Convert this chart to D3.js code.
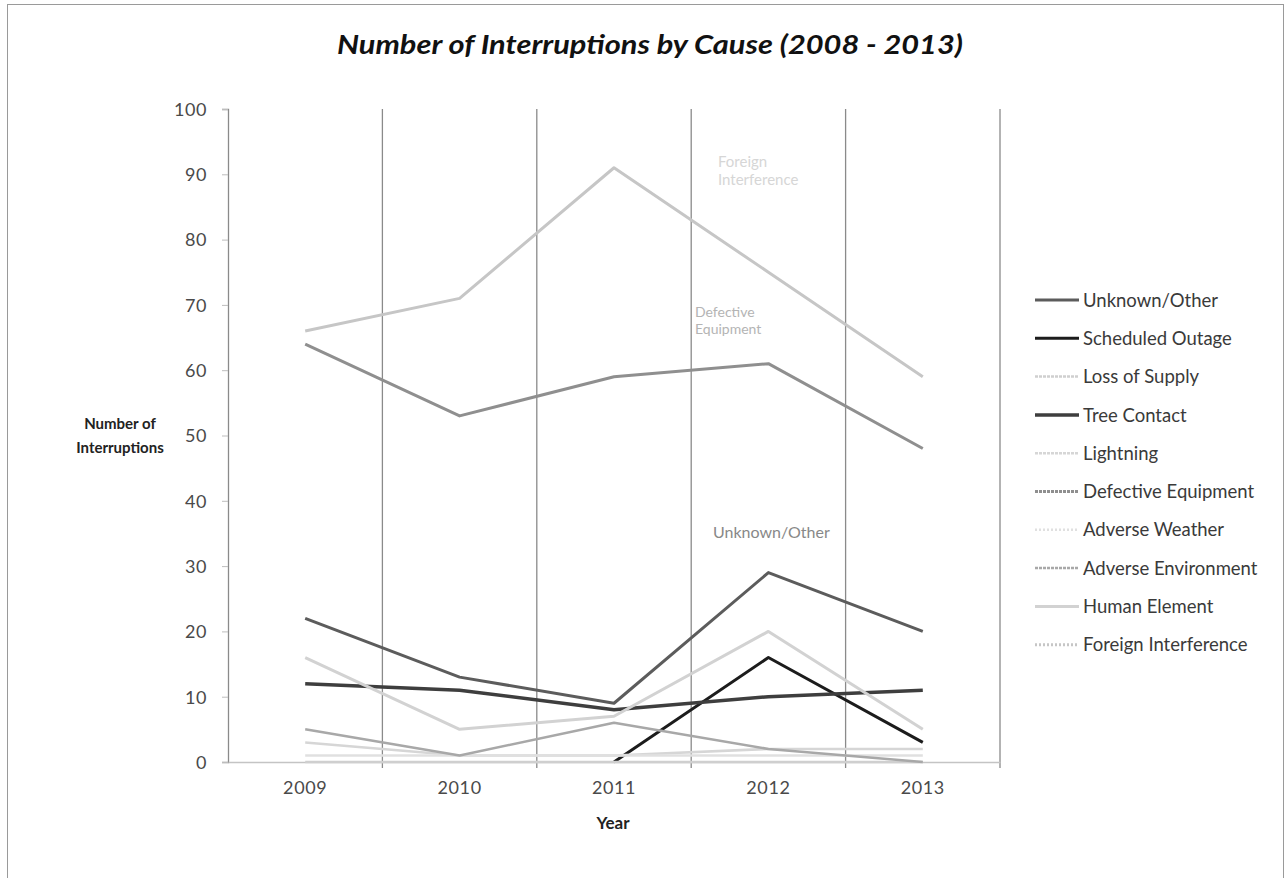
<!DOCTYPE html>
<html>
<head>
<meta charset="utf-8">
<script src="https://cdn.jsdelivr.net/npm/d3@7"></script>
<style>
  html, body { margin: 0; padding: 0; background: #fff; }
  svg { display: block; }
  text { font-family: Lato, "Open Sans", sans-serif; }
</style>
</head>
<body>
<div id="chart"></div>
<script>
// Interruption counts per cause, 2009–2013
const years = ["2009", "2010", "2011", "2012", "2013"];
const yTicks = [0, 10, 20, 30, 40, 50, 60, 70, 80, 90, 100];

const unknownOther        = [22, 13, 9, 29, 20];
const scheduledOutage     = [null, null, 0, 16, 3];
const lossOfSupply        = [0, 0, 0, 0, 0];
const treeContact         = [12, 11, 8, 10, 11];
const lightning           = [3, 1, 1, 2, 2];
const defectiveEquipment  = [64, 53, 59, 61, 48];
const adverseWeather      = [1, 1, 1, 1, 1];
const adverseEnvironment  = [5, 1, 6, 2, 0];
const humanElement        = [16, 5, 7, 20, 5];
const foreignInterference = [66, 71, 91, 75, 59];

const series = [
  { name: "Unknown/Other",        values: unknownOther,        color: "#5c5c5c", width: 3,   key: null },
  { name: "Scheduled Outage",     values: scheduledOutage,     color: "#1c1c1c", width: 3,   key: null },
  { name: "Loss of Supply",       values: lossOfSupply,        color: "#cfcfcf", width: 2.5, key: "3,1" },
  { name: "Tree Contact",         values: treeContact,         color: "#3e3e3e", width: 3.5, key: null },
  { name: "Lightning",            values: lightning,           color: "#d6d6d6", width: 2.5, key: "3,1" },
  { name: "Defective Equipment",  values: defectiveEquipment,  color: "#8f8f8f", width: 3,   key: "3,1" },
  { name: "Adverse Weather",      values: adverseWeather,      color: "#e0e0e0", width: 2.5, key: "2,2" },
  { name: "Adverse Environment",  values: adverseEnvironment,  color: "#a8a8a8", width: 2.5, key: "3,1" },
  { name: "Human Element",        values: humanElement,        color: "#d2d2d2", width: 3,   key: null },
  { name: "Foreign Interference", values: foreignInterference, color: "#c6c6c6", width: 3,   key: "2,2" }
];

// In-plot callouts
const callouts = [
  { lines: ["Foreign", "Interference"], x: 718, y: 167, color: "#d6d6d6", size: 15 },
  { lines: ["Defective", "Equipment"],  x: 695, y: 317, color: "#b4b4b4", size: 14 },
  { lines: ["Unknown/Other"],           x: 713, y: 538, color: "#888888", size: 16 }
];

const W = 1286, H = 878;
const svg = d3.select("#chart").append("svg").attr("width", W).attr("height", H);

// chart frame
svg.append("rect").attr("x", 7.5).attr("y", 4.5).attr("width", 1276).attr("height", 880)
  .attr("fill", "none").attr("stroke", "#9a9a9a").attr("stroke-width", 1);

const x = d3.scaleBand().domain(years).range([228, 1000]).padding(0);
const y = d3.scaleLinear().domain([0, 100]).range([762, 109]);
const cx = d => x(d) + x.bandwidth() / 2;

// title
svg.append("text").attr("x", 650).attr("y", 54).attr("text-anchor", "middle")
  .attr("font-size", 26).attr("font-weight", "bold").attr("font-style", "italic")
  .attr("fill", "#111")
  .attr("textLength", 626).attr("lengthAdjust", "spacingAndGlyphs")
  .text("Number of Interruptions by Cause (2008 - 2013)");

// vertical gridlines at category boundaries
const g = svg.append("g");
g.selectAll("line.grid").data(years).enter().append("line")
  .attr("class", "grid")
  .attr("x1", d => x(d) + x.bandwidth()).attr("x2", d => x(d) + x.bandwidth())
  .attr("y1", y(100)).attr("y2", y(0) + 6)
  .attr("stroke", "#8a8a8a").attr("stroke-width", 1.3);

// y axis
const yAxis = d3.axisLeft(y).tickValues(yTicks).tickSize(6).tickPadding(15);
const ya = svg.append("g").attr("transform", "translate(228,0)").call(yAxis);
ya.select(".domain").attr("stroke", "#8a8a8a").attr("stroke-width", 1.3);
ya.selectAll(".tick line").attr("stroke", "#bdbdbd");
ya.selectAll(".tick text").attr("font-size", 18).attr("fill", "#4a4a4a")
  .attr("letter-spacing", 0.6)
  .attr("font-family", "Lato, 'Open Sans', sans-serif").attr("dy", "0.35em");

// x axis
const xAxis = d3.axisBottom(x).tickSize(0).tickPadding(19);
const xa = svg.append("g").attr("transform", `translate(0,${y(0)})`).call(xAxis);
xa.select(".domain").attr("stroke", "#c4c4c4").attr("stroke-width", 1.5);
xa.selectAll(".tick text").attr("font-size", 18).attr("fill", "#4a4a4a")
  .attr("letter-spacing", 0.6)
  .attr("font-family", "Lato, 'Open Sans', sans-serif");

// axis titles
svg.append("text").attr("x", 613).attr("y", 829).attr("text-anchor", "middle")
  .attr("font-size", 17).attr("font-weight", "bold").attr("fill", "#222").text("Year");
const yt = svg.append("text").attr("text-anchor", "middle").attr("font-size", 15)
  .attr("font-weight", "bold").attr("fill", "#222");
yt.append("tspan").attr("x", 120).attr("y", 429).text("Number of");
yt.append("tspan").attr("x", 120).attr("y", 453).text("Interruptions");

// series lines
const line = d3.line()
  .defined(d => d.v != null)
  .x(d => cx(d.year))
  .y(d => y(d.v));

svg.append("g").selectAll("path").data(series).enter().append("path")
  .attr("d", s => line(s.values.map((v, i) => ({ year: years[i], v }))))
  .attr("fill", "none")
  .attr("stroke", s => s.color)
  .attr("stroke-width", s => s.width)
  .attr("stroke-linejoin", "round");

// callouts
callouts.forEach(c => {
  const t = svg.append("text").attr("font-size", c.size).attr("fill", c.color);
  c.lines.forEach((l, i) => t.append("tspan").attr("x", c.x).attr("y", c.y + i * (c.size + 3)).text(l));
});

// legend
const lg = svg.append("g").selectAll("g").data(series).enter().append("g")
  .attr("transform", (d, i) => `translate(1035,${300 + i * 38.3})`);
lg.append("line").attr("x1", 0).attr("x2", 44).attr("y1", 0).attr("y2", 0)
  .attr("stroke", d => d.color).attr("stroke-width", d => d.width)
  .attr("stroke-dasharray", d => d.key);
lg.append("text").attr("x", 48).attr("y", 0).attr("dy", "0.36em")
  .attr("font-size", 18.5).attr("fill", "#3a3a3a").text(d => d.name);
</script>
</body>
</html>
